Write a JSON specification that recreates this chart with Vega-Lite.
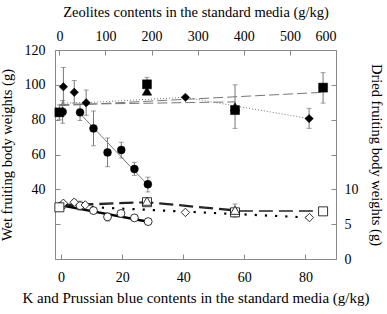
{
  "$schema": "https://vega.github.io/schema/vega-lite/v6.json",
  "width": 281,
  "height": 209,
  "autosize": {"type": "none"},
  "padding": {"left": 55, "top": 50, "right": 51, "bottom": 55},
  "background": "white",
  "config": {
    "view": {"stroke": "#888", "strokeWidth": 1},
    "axis": {
      "labelFont": "'Liberation Serif', 'DejaVu Serif', serif",
      "titleFont": "'Liberation Serif', 'DejaVu Serif', serif",
      "labelFontSize": 14,
      "titleFontSize": 14.5,
      "titleFontWeight": "normal",
      "labelColor": "#000",
      "titleColor": "#000",
      "domain": false,
      "grid": false,
      "tickColor": "#888",
      "tickSize": -5
    }
  },
  "datasets": {
    "wet": [
      {"s": "circle", "x": 0.5, "y": 84.5, "lo": 78, "hi": 91},
      {"s": "circle", "x": 6.2, "y": 84.2, "lo": 79.5, "hi": 89},
      {"s": "circle", "x": 10.6, "y": 75, "lo": 65, "hi": 85},
      {"s": "circle", "x": 15.2, "y": 61.2, "lo": 53, "hi": 69.5},
      {"s": "circle", "x": 19.7, "y": 62.6, "lo": 58, "hi": 67},
      {"s": "circle", "x": 24, "y": 51.7, "lo": 48, "hi": 55.5},
      {"s": "circle", "x": 28.4, "y": 42.9, "lo": 38.5, "hi": 47},
      {"s": "diamond", "x": 0.75, "y": 98.9, "lo": 88.5, "hi": 110},
      {"s": "diamond", "x": 4.3, "y": 95.7, "lo": 89.5, "hi": 102.5},
      {"s": "diamond", "x": 8.2, "y": 89.7, "lo": 82.5, "hi": 97},
      {"s": "diamond", "x": 40.7, "y": 92.8, "lo": 92, "hi": 93.6},
      {"s": "diamond", "x": 81.2, "y": 80.6, "lo": 75, "hi": 86.5}
    ],
    "wetz": [
      {"s": "square", "z": 0, "y": 84.2, "lo": 80, "hi": 88.5},
      {"s": "square", "z": 190, "y": 100.3, "lo": 96, "hi": 104.3},
      {"s": "square", "z": 381, "y": 85.5, "lo": 75, "hi": 100},
      {"s": "square", "z": 572, "y": 98.4, "lo": 89.5, "hi": 107},
      {"s": "triangle", "z": 190, "y": 96.4, "lo": null, "hi": null},
      {"s": "triangle", "z": 381, "y": 87.4, "lo": null, "hi": null}
    ],
    "dry": [
      {"s": "circle", "x": 0.2, "y": 7.66, "lo": null, "hi": null},
      {"s": "circle", "x": 6.2, "y": 7.66, "lo": 7.0, "hi": 8.3},
      {"s": "circle", "x": 10.6, "y": 6.95, "lo": null, "hi": null},
      {"s": "circle", "x": 15.2, "y": 6.05, "lo": 5.45, "hi": 6.6},
      {"s": "circle", "x": 19.6, "y": 6.54, "lo": null, "hi": null},
      {"s": "circle", "x": 24, "y": 5.9, "lo": null, "hi": null},
      {"s": "circle", "x": 28.5, "y": 5.37, "lo": null, "hi": null},
      {"s": "diamond", "x": 0.75, "y": 8.0, "lo": null, "hi": null},
      {"s": "diamond", "x": 4.3, "y": 8.15, "lo": 7.8, "hi": 8.5},
      {"s": "diamond", "x": 7.9, "y": 7.76, "lo": null, "hi": null},
      {"s": "diamond", "x": 40.7, "y": 6.69, "lo": null, "hi": null},
      {"s": "diamond", "x": 81.3, "y": 5.95, "lo": null, "hi": null}
    ],
    "dryz": [
      {"s": "square", "z": 0, "y": 7.42, "lo": null, "hi": null},
      {"s": "square", "z": 190, "y": 8.15, "lo": 7.8, "hi": 8.6},
      {"s": "square", "z": 381, "y": 6.7, "lo": 6.0, "hi": 7.9},
      {"s": "square", "z": 572, "y": 6.84, "lo": null, "hi": null},
      {"s": "triangle", "z": 190, "y": 8.3, "lo": null, "hi": null},
      {"s": "triangle", "z": 381, "y": 7.0, "lo": null, "hi": null}
    ],
    "wetfit": [
      {"s": "circle", "x": 6.2, "y": 83.5},
      {"s": "circle", "x": 28.4, "y": 42.5},
      {"s": "diamond", "x": 0, "y": 89.5},
      {"s": "diamond", "x": 8.2, "y": 89.8},
      {"s": "diamond", "x": 40.7, "y": 92.8},
      {"s": "diamond", "x": 81.2, "y": 80.6}
    ],
    "wetfitz": [
      {"s": "square", "z": 0, "y": 88},
      {"s": "square", "z": 572, "y": 95.7},
      {"s": "triangle", "z": 0, "y": 88.7},
      {"s": "triangle", "z": 381, "y": 90.2}
    ],
    "dryfit": [
      {"s": "circle", "x": 0, "y": 7.7},
      {"s": "circle", "x": 28.5, "y": 5.35},
      {"s": "diamond", "x": 0, "y": 7.65},
      {"s": "diamond", "x": 81.3, "y": 5.95}
    ],
    "dryfitz": [
      {"s": "square", "z": 0, "y": 7.6},
      {"s": "square", "z": 190, "y": 8.1},
      {"s": "square", "z": 381, "y": 6.9},
      {"s": "square", "z": 572, "y": 6.9},
      {"s": "triangle", "z": 0, "y": 7.8},
      {"s": "triangle", "z": 190, "y": 8.2},
      {"s": "triangle", "z": 381, "y": 7.05}
    ]
  },
  "resolve": {
    "scale": {"x": "independent", "y": "independent", "shape": "independent"},
    "axis": {"x": "independent", "y": "independent"}
  },
  "layer": [
    {
      "data": {"name": "wetfit"},
      "transform": [{"filter": "datum.s == 'circle'"}],
      "mark": {"type": "line", "color": "#777", "strokeWidth": 1},
      "encoding": {
        "x": {"field": "x", "type": "quantitative", "scale": {"domain": [-2, 90], "nice": false, "zero": false},
          "axis": {"orient": "bottom", "values": [0, 20, 40, 60, 80], "title": "K and Prussian blue contents in the standard media (g/kg)", "labelPadding": 16, "titlePadding": 6, "titleFontSize": 15}},
        "y": {"field": "y", "type": "quantitative", "scale": {"domain": [0, 120], "nice": false, "zero": false},
          "axis": {"orient": "left", "values": [0, 20, 40, 60, 80, 100, 120], "labelExpr": "datum.value >= 40 ? datum.label : ''", "title": "Wet fruiting body weights (g)", "labelPadding": 15, "titlePadding": 10}}
      }
    },
    {
      "data": {"name": "wetfit"},
      "transform": [{"filter": "datum.s == 'diamond'"}],
      "mark": {"type": "line", "color": "#777", "strokeWidth": 1, "strokeDash": [1, 2]},
      "encoding": {
        "x": {"field": "x", "type": "quantitative", "scale": {"domain": [-2, 90], "nice": false, "zero": false}, "axis": null},
        "y": {"field": "y", "type": "quantitative", "scale": {"domain": [0, 120], "nice": false, "zero": false}, "axis": null}
      }
    },
    {
      "data": {"name": "wetfitz"},
      "mark": {"type": "line", "color": "#777", "strokeWidth": 1, "strokeDash": [10, 4]},
      "encoding": {
        "x": {"field": "z", "type": "quantitative", "scale": {"domain": [-9.5, 600], "nice": false, "zero": false},
          "axis": {"orient": "top", "values": [0, 100, 200, 300, 400, 500, 600], "title": "Zeolites contents in the standard media (g/kg)", "labelPadding": 12, "titlePadding": 10}},
        "y": {"field": "y", "type": "quantitative", "scale": {"domain": [0, 120], "nice": false, "zero": false}, "axis": null},
        "detail": {"field": "s"}
      }
    },
    {
      "data": {"name": "dryfit"},
      "transform": [{"filter": "datum.s == 'circle'"}],
      "mark": {"type": "line", "color": "#000", "strokeWidth": 2.5},
      "encoding": {
        "x": {"field": "x", "type": "quantitative", "scale": {"domain": [-2, 90], "nice": false, "zero": false}, "axis": null},
        "y": {"field": "y", "type": "quantitative", "scale": {"domain": [0, 30], "nice": false, "zero": false},
          "axis": {"orient": "right", "values": [0, 5, 10, 15, 20, 25, 30], "labelExpr": "datum.value <= 10 ? datum.label : ''", "title": "Dried fruiting body weights (g)", "labelPadding": 13, "titlePadding": 10}}
      }
    },
    {
      "data": {"name": "dryfit"},
      "transform": [{"filter": "datum.s == 'diamond'"}],
      "mark": {"type": "line", "color": "#000", "strokeWidth": 2.2, "strokeDash": [2.2, 8]},
      "encoding": {
        "x": {"field": "x", "type": "quantitative", "scale": {"domain": [-2, 90], "nice": false, "zero": false}, "axis": null},
        "y": {"field": "y", "type": "quantitative", "scale": {"domain": [0, 30], "nice": false, "zero": false}, "axis": null}
      }
    },
    {
      "data": {"name": "dryfitz"},
      "mark": {"type": "line", "color": "#222", "strokeWidth": 1.4, "strokeDash": [14, 6]},
      "encoding": {
        "x": {"field": "z", "type": "quantitative", "scale": {"domain": [-9.5, 600], "nice": false, "zero": false}, "axis": null},
        "y": {"field": "y", "type": "quantitative", "scale": {"domain": [0, 30], "nice": false, "zero": false}, "axis": null},
        "detail": {"field": "s"}
      }
    },
    {
      "data": {"name": "wet"},
      "mark": {"type": "errorbar", "ticks": {"size": 5}, "color": "#777"},
      "encoding": {
        "x": {"field": "x", "type": "quantitative", "scale": {"domain": [-2, 90], "nice": false, "zero": false}, "axis": null},
        "y": {"field": "lo", "type": "quantitative", "scale": {"domain": [0, 120], "nice": false, "zero": false}, "axis": null},
        "y2": {"field": "hi"}
      }
    },
    {
      "data": {"name": "wetz"},
      "transform": [{"filter": "datum.lo != null"}],
      "mark": {"type": "errorbar", "ticks": {"size": 5}, "color": "#777"},
      "encoding": {
        "x": {"field": "z", "type": "quantitative", "scale": {"domain": [-9.5, 600], "nice": false, "zero": false}, "axis": null},
        "y": {"field": "lo", "type": "quantitative", "scale": {"domain": [0, 120], "nice": false, "zero": false}, "axis": null},
        "y2": {"field": "hi"}
      }
    },
    {
      "data": {"name": "dry"},
      "transform": [{"filter": "datum.lo != null"}],
      "mark": {"type": "errorbar", "ticks": {"size": 5}, "color": "#777"},
      "encoding": {
        "x": {"field": "x", "type": "quantitative", "scale": {"domain": [-2, 90], "nice": false, "zero": false}, "axis": null},
        "y": {"field": "lo", "type": "quantitative", "scale": {"domain": [0, 30], "nice": false, "zero": false}, "axis": null},
        "y2": {"field": "hi"}
      }
    },
    {
      "data": {"name": "dryz"},
      "transform": [{"filter": "datum.lo != null"}],
      "mark": {"type": "errorbar", "ticks": {"size": 5}, "color": "#777"},
      "encoding": {
        "x": {"field": "z", "type": "quantitative", "scale": {"domain": [-9.5, 600], "nice": false, "zero": false}, "axis": null},
        "y": {"field": "lo", "type": "quantitative", "scale": {"domain": [0, 30], "nice": false, "zero": false}, "axis": null},
        "y2": {"field": "hi"}
      }
    },
    {
      "data": {"name": "wet"},
      "mark": {"type": "point", "filled": true, "fill": "#000", "stroke": "#000", "strokeWidth": 0.5, "opacity": 1},
      "encoding": {
        "x": {"field": "x", "type": "quantitative", "scale": {"domain": [-2, 90], "nice": false, "zero": false}, "axis": null},
        "y": {"field": "y", "type": "quantitative", "scale": {"domain": [0, 120], "nice": false, "zero": false}, "axis": null},
        "shape": {"field": "s", "type": "nominal", "scale": {"domain": ["circle", "diamond", "square", "triangle"], "range": ["circle", "diamond", "square", "triangle-up"]}, "legend": null},
        "size": {"field": "s", "type": "nominal", "scale": {"domain": ["circle", "diamond", "square", "triangle"], "range": [62, 90, 62, 62]}, "legend": null}
      }
    },
    {
      "data": {"name": "wetz"},
      "mark": {"type": "point", "filled": true, "fill": "#000", "stroke": "#000", "strokeWidth": 0.5, "opacity": 1},
      "encoding": {
        "x": {"field": "z", "type": "quantitative", "scale": {"domain": [-9.5, 600], "nice": false, "zero": false}, "axis": null},
        "y": {"field": "y", "type": "quantitative", "scale": {"domain": [0, 120], "nice": false, "zero": false}, "axis": null},
        "shape": {"field": "s", "type": "nominal", "scale": {"domain": ["circle", "diamond", "square", "triangle"], "range": ["circle", "diamond", "square", "triangle-up"]}, "legend": null},
        "size": {"field": "s", "type": "nominal", "scale": {"domain": ["circle", "diamond", "square", "triangle"], "range": [62, 90, 62, 62]}, "legend": null}
      }
    },
    {
      "data": {"name": "dry"},
      "mark": {"type": "point", "filled": true, "fill": "#fff", "stroke": "#000", "strokeWidth": 0.8, "opacity": 1},
      "encoding": {
        "x": {"field": "x", "type": "quantitative", "scale": {"domain": [-2, 90], "nice": false, "zero": false}, "axis": null},
        "y": {"field": "y", "type": "quantitative", "scale": {"domain": [0, 30], "nice": false, "zero": false}, "axis": null},
        "shape": {"field": "s", "type": "nominal", "scale": {"domain": ["circle", "diamond", "square", "triangle"], "range": ["circle", "diamond", "square", "triangle-up"]}, "legend": null},
        "size": {"field": "s", "type": "nominal", "scale": {"domain": ["circle", "diamond", "square", "triangle"], "range": [62, 90, 62, 62]}, "legend": null}
      }
    },
    {
      "data": {"name": "dryz"},
      "mark": {"type": "point", "filled": true, "fill": "#fff", "stroke": "#000", "strokeWidth": 0.8, "opacity": 1},
      "encoding": {
        "x": {"field": "z", "type": "quantitative", "scale": {"domain": [-9.5, 600], "nice": false, "zero": false}, "axis": null},
        "y": {"field": "y", "type": "quantitative", "scale": {"domain": [0, 30], "nice": false, "zero": false}, "axis": null},
        "shape": {"field": "s", "type": "nominal", "scale": {"domain": ["circle", "diamond", "square", "triangle"], "range": ["circle", "diamond", "square", "triangle-up"]}, "legend": null},
        "size": {"field": "s", "type": "nominal", "scale": {"domain": ["circle", "diamond", "square", "triangle"], "range": [62, 90, 62, 62]}, "legend": null}
      }
    }
  ]
}
